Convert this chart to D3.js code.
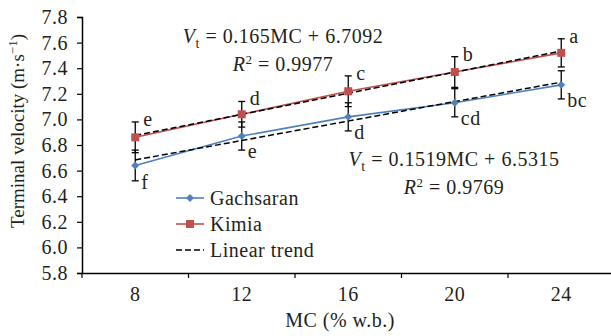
<!DOCTYPE html>
<html lang="en">
<head>
<meta charset="UTF-8">
<title>Terminal velocity vs MC</title>
<style>
    body { margin: 0; background: #fff; }
    svg { display: block; font-family: "Liberation Serif", "DejaVu Serif", serif; }
    svg text { fill: #231f20; letter-spacing: 0.5px; }
    svg text.ytitle { letter-spacing: 0; }
</style>
</head>
<body>
<div id="chart"></div>
<script src="https://d3js.org/d3.v7.min.js"></script>
<script>
    // values
    const categories = [8, 12, 16, 20, 24];
    const gachsaran = [6.64, 6.87, 7.02, 7.13, 7.27];
    const gachsaranErr = [0.12, 0.11, 0.11, 0.11, 0.11];
    const gachsaranLetters = ["f", "e", "d", "cd", "bc"];
    const kimia = [6.86, 7.04, 7.22, 7.37, 7.52];
    const kimiaErr = [0.12, 0.10, 0.12, 0.12, 0.11];
    const kimiaLetters = ["e", "d", "c", "b", "a"];
    // trend lines use the point index (1..5) as x, like Excel does
    const gachsaranTrend = { slope: 0.1519, intercept: 6.5315, r2: "0.9769" };
    const kimiaTrend = { slope: 0.165, intercept: 6.7092, r2: "0.9977" };
    const yTicks = [5.8, 6.0, 6.2, 6.4, 6.6, 6.8, 7.0, 7.2, 7.4, 7.6, 7.8];

    const width = 611, height = 336;
    const blue = "#4f81bd", red = "#c0504d";
    const fs = 20;

    const svg = d3.select("#chart").append("svg")
        .attr("width", width)
        .attr("height", height);

    const x = d3.scaleBand().domain(categories).range([82, 614.5]);
    const cx = d => x(d) + x.bandwidth() / 2;
    const y = d3.scaleLinear().domain([5.8, 7.8]).range([273, 17]);

    // axes
    const yAxis = svg.append("g")
        .attr("transform", "translate(82,0)")
        .call(d3.axisLeft(y).tickValues(yTicks).tickFormat(d3.format(".1f")).tickSize(5).tickPadding(9));
    yAxis.attr("font-family", null);
    yAxis.select(".domain").attr("stroke", "#000").attr("stroke-width", 1.5);
    yAxis.selectAll(".tick line").attr("stroke", "#000").attr("stroke-width", 1.2);
    yAxis.selectAll("text").attr("font-size", fs).attr("fill", "#231f20");

    const xAxis = svg.append("g")
        .attr("transform", "translate(0,273)")
        .call(d3.axisBottom(x).tickSize(0).tickPadding(14));
    xAxis.attr("font-family", null);
    xAxis.select(".domain").attr("stroke", "#000").attr("stroke-width", 1.5);
    xAxis.selectAll("text").attr("font-size", fs).attr("fill", "#231f20");
    // tick marks sit between the categories
    xAxis.selectAll(".sep")
        .data(categories.concat([null]))
        .join("line")
        .attr("class", "sep")
        .attr("x1", (d, i) => x.range()[0] + i * x.step())
        .attr("x2", (d, i) => x.range()[0] + i * x.step())
        .attr("y1", 0).attr("y2", 5)
        .attr("stroke", "#000").attr("stroke-width", 1.2);

    svg.append("text")
        .attr("class", "ytitle")
        .attr("transform", "translate(24,131) rotate(-90)")
        .attr("text-anchor", "middle")
        .attr("font-size", 19)
        .call(t => {
            t.append("tspan").text("Terminal velocity (m·s");
            t.append("tspan").attr("dy", -7).attr("font-size", 13).text("−1");
            t.append("tspan").attr("dy", 7).text(")");
        });

    svg.append("text")
        .attr("x", 340).attr("y", 327)
        .attr("text-anchor", "middle")
        .attr("font-size", fs)
        .text("MC (% w.b.)");

    // series lines
    const line = d3.line().x((d, i) => cx(categories[i])).y(d => y(d));
    svg.append("path").datum(gachsaran).attr("d", line)
        .attr("fill", "none").attr("stroke", blue).attr("stroke-width", 1.6);
    svg.append("path").datum(kimia).attr("d", line)
        .attr("fill", "none").attr("stroke", red).attr("stroke-width", 1.6);

    // linear trends
    [gachsaranTrend, kimiaTrend].forEach(tr => {
        const ends = [0, categories.length - 1];
        svg.append("line")
            .attr("x1", cx(categories[ends[0]]))
            .attr("y1", y(tr.slope * (ends[0] + 1) + tr.intercept))
            .attr("x2", cx(categories[ends[1]]))
            .attr("y2", y(tr.slope * (ends[1] + 1) + tr.intercept))
            .attr("stroke", "#000").attr("stroke-width", 1.5)
            .attr("stroke-dasharray", "6,3");
    });

    // error bars
    function errorBars(values, errs) {
        const g = svg.append("g").attr("stroke", "#000").attr("stroke-width", 1.3);
        values.forEach((v, i) => {
            const px = cx(categories[i]);
            g.append("line").attr("x1", px).attr("x2", px)
                .attr("y1", y(v - errs[i])).attr("y2", y(v + errs[i]));
            [v - errs[i], v + errs[i]].forEach(e => {
                g.append("line").attr("x1", px - 3.5).attr("x2", px + 3.5)
                    .attr("y1", y(e)).attr("y2", y(e));
            });
        });
    }
    errorBars(gachsaran, gachsaranErr);
    errorBars(kimia, kimiaErr);

    // markers
    const diamond = d3.symbol().type(d3.symbolDiamond2).size(40);
    const square = d3.symbol().type(d3.symbolSquare).size(64);
    svg.append("g").selectAll("path")
        .data(gachsaran)
        .join("path")
        .attr("d", diamond)
        .attr("transform", (d, i) => `translate(${cx(categories[i])},${y(d)})`)
        .attr("fill", blue);
    svg.append("g").selectAll("path")
        .data(kimia)
        .join("path")
        .attr("d", square)
        .attr("transform", (d, i) => `translate(${cx(categories[i])},${y(d)})`)
        .attr("fill", red);

    // significance letters
    svg.append("g").selectAll("text")
        .data(kimiaLetters)
        .join("text")
        .attr("x", (d, i) => cx(categories[i]) + 8)
        .attr("y", (d, i) => y(kimia[i] + kimiaErr[i]) + 4)
        .attr("font-size", fs)
        .text(d => d);
    svg.append("g").selectAll("text")
        .data(gachsaranLetters)
        .join("text")
        .attr("x", (d, i) => cx(categories[i]) + 6)
        .attr("y", (d, i) => y(gachsaran[i] - gachsaranErr[i]) + 8)
        .attr("font-size", fs)
        .text(d => d);

    // trend equations
    function equation(tr, xc, yb) {
        const t = svg.append("text").attr("x", xc).attr("y", yb)
            .attr("text-anchor", "middle").attr("font-size", fs);
        t.append("tspan").attr("font-style", "italic").text("V");
        t.append("tspan").attr("dy", 5).attr("font-size", 14).text("t");
        t.append("tspan").attr("dy", -5).text(` = ${tr.slope}MC + ${tr.intercept}`);
        const r = svg.append("text").attr("x", xc).attr("y", yb + 27.5)
            .attr("text-anchor", "middle").attr("font-size", fs);
        r.append("tspan").attr("font-style", "italic").text("R");
        r.append("tspan").attr("dy", -7).attr("font-size", 13).text("2");
        r.append("tspan").attr("dy", 7).text(` = ${tr.r2}`);
    }
    equation(kimiaTrend, 283, 43);
    equation(gachsaranTrend, 454, 166);

    // legend
    const legend = svg.append("g").attr("transform", "translate(176,198)");
    const items = [
        { name: "Gachsaran", color: blue, mark: diamond, dash: null },
        { name: "Kimia", color: red, mark: square, dash: null },
        { name: "Linear trend", color: "#000", mark: null, dash: "6,3" }
    ];
    items.forEach((it, i) => {
        const row = legend.append("g").attr("transform", `translate(0,${i * 26})`);
        row.append("line").attr("x1", 0).attr("x2", 28)
            .attr("stroke", it.color).attr("stroke-width", it.dash ? 1.5 : 1.6)
            .attr("stroke-dasharray", it.dash);
        if (it.mark) {
            row.append("path").attr("d", it.mark).attr("transform", "translate(14,0)")
                .attr("fill", it.color);
        }
        row.append("text").attr("x", 34).attr("y", 6.5)
            .attr("font-size", fs).text(it.name);
    });
</script>
</body>
</html>
